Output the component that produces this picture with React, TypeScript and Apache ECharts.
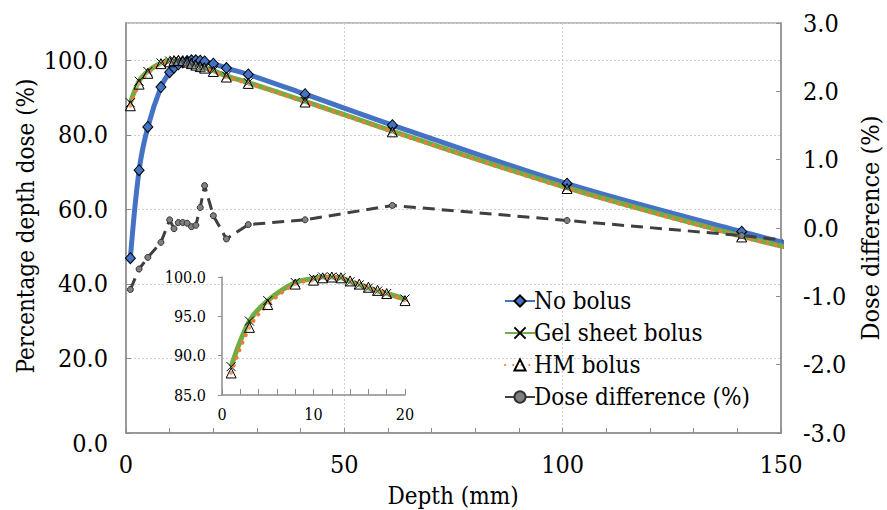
import React, { useEffect, useRef } from "react";
import * as echarts from "echarts";

const depth = [1, 3, 5, 8, 10, 11, 12, 13, 14, 15, 16, 17, 18, 20, 23, 28, 41, 61, 101, 141, 151];
const noBolus = [46.9, 70.5, 82.1, 92.8, 96.8, 98.0, 98.9, 99.4, 99.8, 100.0, 100.0, 99.9, 99.7, 99.1, 97.9, 96.2, 90.9, 82.6, 66.9, 54.0, 51.0];
const gelSheet = [88.6, 94.4, 97.0, 99.3, 99.8, 100.0, 100.0, 99.9, 99.4, 99.0, 98.6, 98.2, 97.9, 97.2, 95.8, 94.0, 89.0, 81.0, 65.8, 52.8, 49.9];
const hmBolus = [87.8, 93.6, 96.5, 99.1, 99.6, 99.9, 100.0, 99.9, 99.5, 99.1, 98.7, 98.3, 97.9, 97.0, 95.5, 93.8, 88.8, 80.8, 65.6, 52.6, 49.8];
const doseDiff = [-0.9, -0.6, -0.43, -0.21, 0.12, -0.01, 0.08, 0.08, 0.07, 0.02, 0.04, 0.3, 0.62, 0.18, -0.16, 0.05, 0.12, 0.33, 0.11, -0.11, -0.18];
const insetMaxDepth = 20;

const names = ["No bolus", "Gel sheet bolus", "HM bolus", "Dose difference (%)"];
const FONT = "'DejaVu Serif Condensed', 'DejaVu Serif', serif";

const pairs = (ys: number[], limit = Infinity) =>
  depth.map((d, i) => [d, ys[i]]).filter((p) => p[0] <= limit);

export default function App() {
  const ref = useRef<HTMLDivElement>(null);
  useEffect(() => {
    document.body.style.margin = "0";
    const chart = echarts.init(ref.current!, null, { renderer: "svg" });
    const axisGray = "#8c8c8c";
    const gridLine = { show: true, lineStyle: { color: "#d0d0d0", type: [2, 2], width: 1 } };
    const blueStyle = {
      type: "line", smooth: 0.35, symbol: "diamond", symbolSize: [10, 11],
      lineStyle: { color: "#4472C4", width: 5 },
      itemStyle: { color: "#4472C4", borderColor: "#000", borderWidth: 1 },
    };
    const greenStyle = {
      type: "line", smooth: 0.35, symbol: "path://M0,0L10,10M10,0L0,10", symbolSize: 9,
      lineStyle: { color: "#70AD47", width: 5 },
      itemStyle: { color: "#70AD47", borderColor: "#000", borderWidth: 1 },
    };
    const orangeStyle = {
      type: "line", smooth: 0.35, symbol: "triangle", symbolSize: 10,
      lineStyle: { color: "#ED7D31", width: 4, type: [0.1, 8], cap: "round" },
      itemStyle: { color: "rgba(255,255,255,0.25)", borderColor: "#000", borderWidth: 1 },
    };
    const lbl = (size: number, extra: any = {}) => ({ fontSize: size, fontFamily: FONT, color: "#000", ...extra });
    chart.setOption({
      animation: false,
      backgroundColor: "#fff",
      textStyle: { fontFamily: FONT, color: "#000" },
      grid: [
        { left: 126, right: 106, top: 23, bottom: 77, show: true, borderColor: "#a6a6a6", borderWidth: 1.5 },
        { left: 222, right: 482, top: 277, bottom: 115 },
      ],
      xAxis: [
        {
          type: "value", gridIndex: 0, min: 0, max: 150, interval: 50,
          axisLine: { lineStyle: { color: axisGray, width: 1.5 } },
          axisTick: { inside: true, length: 5, lineStyle: { color: axisGray } },
          minorTick: { show: true, splitNumber: 5, length: 5, lineStyle: { color: axisGray } },
          splitLine: gridLine,
          axisLabel: lbl(25, { margin: 19 }),
        },
        {
          type: "value", gridIndex: 1, min: 0, max: 20, interval: 10,
          axisLine: { lineStyle: { color: axisGray, width: 1.5 } },
          axisTick: { inside: true, length: 6, lineStyle: { color: axisGray } },
          minorTick: { show: true, splitNumber: 5, length: 6, lineStyle: { color: axisGray } },
          splitLine: { show: false },
          axisLabel: lbl(16, { margin: 11 }),
        },
      ],
      yAxis: [
        {
          type: "value", gridIndex: 0, min: 0, max: 110, interval: 20,
          axisLine: { show: true, lineStyle: { color: axisGray, width: 1.5 } },
          axisTick: { show: true, inside: true, length: 5, lineStyle: { color: axisGray } },
          splitLine: gridLine,
          axisLabel: lbl(25, {
            margin: 18, showMaxLabel: false,
            formatter: (v: number) => (v === 0 ? "{z|0.0}" : v.toFixed(1)),
            rich: { z: lbl(25, { padding: [20, 0, 0, 0] }) },
          }),
        },
        {
          type: "value", gridIndex: 0, position: "right", min: -3, max: 3, interval: 1,
          axisLine: { show: true, lineStyle: { color: axisGray, width: 1.5 } },
          axisTick: { show: true, inside: true, length: 5, lineStyle: { color: axisGray } },
          splitLine: { show: false },
          axisLabel: lbl(25, { margin: 22, formatter: (v: number) => v.toFixed(1) }),
        },
        {
          type: "value", gridIndex: 1, min: 85, max: 100, interval: 5,
          axisLine: { show: true, lineStyle: { color: axisGray, width: 1.5 } },
          axisTick: { show: true, length: 4, lineStyle: { color: axisGray } },
          splitLine: { show: false },
          axisLabel: lbl(16, { margin: 16, formatter: (v: number) => v.toFixed(1) }),
        },
      ],
      legend: {
        data: names, orient: "vertical", left: 499, top: 284, itemGap: 8, itemWidth: 30, itemHeight: 14,
        textStyle: lbl(24, { padding: [0, 0, 0, -6] }),
      },
      series: [
        { ...blueStyle, name: names[0], xAxisIndex: 0, yAxisIndex: 0, data: pairs(noBolus) },
        { ...greenStyle, name: names[1], xAxisIndex: 0, yAxisIndex: 0, data: pairs(gelSheet) },
        { ...orangeStyle, name: names[2], xAxisIndex: 0, yAxisIndex: 0, data: pairs(hmBolus) },
        {
          type: "line", name: names[3], xAxisIndex: 0, yAxisIndex: 1, data: pairs(doseDiff),
          symbol: "circle", symbolSize: 6,
          lineStyle: { color: "#404040", width: 3, type: [12, 7] },
          itemStyle: { color: "#808080", borderColor: "#333", borderWidth: 1 },
        },
        { ...greenStyle, name: names[1], xAxisIndex: 1, yAxisIndex: 2, data: pairs(gelSheet, insetMaxDepth) },
        { ...orangeStyle, name: names[2], xAxisIndex: 1, yAxisIndex: 2, data: pairs(hmBolus, insetMaxDepth) },
      ],
      graphic: [
        { type: "text", x: 26, y: 226, rotation: Math.PI / 2, style: { text: "Percentage depth dose (%)", fontSize: 24, fontFamily: FONT, fill: "#000", align: "center", verticalAlign: "middle" } },
        { type: "text", x: 870, y: 228, rotation: Math.PI / 2, style: { text: "Dose difference (%)", fontSize: 25, fontFamily: FONT, fill: "#000", align: "center", verticalAlign: "middle" } },
        { type: "text", x: 453, y: 496, style: { text: "Depth (mm)", fontSize: 24, fontFamily: FONT, fill: "#000", align: "center", verticalAlign: "middle" } },
      ],
    });
    return () => chart.dispose();
  }, []);
  return <div ref={ref} style={{ width: 887, height: 510 }} />;
}
